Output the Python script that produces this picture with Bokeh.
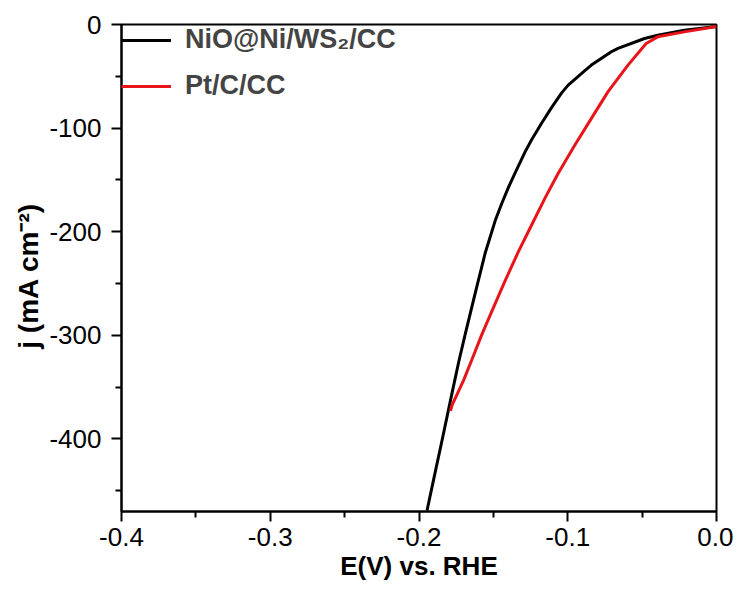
from bokeh.plotting import figure
from bokeh.models import FixedTicker, NumeralTickFormatter, Legend, LegendItem, Range1d
from bokeh.embed import file_html
from bokeh.resources import INLINE

# Data (LSV curves)
nio_E = [0.0, -0.0216, -0.0395, -0.0484, -0.0662, -0.0707, -0.0841, -0.0885, -0.0997,
         -0.1041, -0.1108, -0.1175, -0.1242, -0.1286, -0.1353, -0.1398, -0.1443, -0.1487,
         -0.1554, -0.1620, -0.1688, -0.1732, -0.1777, -0.1846, -0.1900, -0.1946]
nio_j = [-2, -5.5, -10.3, -13.5, -23.1, -26.3, -39.2, -44.5, -58.5,
         -66, -80, -95, -111, -122.7, -143, -157, -172.5, -189,
         -220, -258, -298, -325, -355, -402, -438, -469]

pt_E = [0.0, -0.0216, -0.0395, -0.0473, -0.0595, -0.0729, -0.0841, -0.0952, -0.1064,
        -0.1153, -0.1242, -0.1331, -0.1420, -0.1520, -0.1580, -0.1632, -0.1699, -0.1744,
        -0.1777, -0.1788]
pt_j = [-2, -7.1, -11.9, -18.3, -39.2, -64.8, -90.6, -116.3, -143.5,
        -167.6, -193.3, -219, -247, -280, -300, -319, -343, -357,
        -367, -373]

series_labels = ["NiO@Ni/WS\u2082/CC", "Pt/C/CC"]
x_major = [-0.4, -0.3, -0.2, -0.1, 0.0]
x_minor = [-0.35, -0.25, -0.15, -0.05]
y_major = [0, -100, -200, -300, -400]
y_minor = [-50, -150, -250, -350, -450]

FONT = "Liberation Sans"

p = figure(width=733, height=587, output_backend="svg", toolbar_location=None,
           x_range=Range1d(-0.4, 0.0), y_range=Range1d(-470, 0),
           min_border_left=121, min_border_right=17, min_border_top=24, min_border_bottom=76)
p.grid.visible = False
p.outline_line_color = "black"
p.outline_line_width = 2
p.background_fill_color = "white"
p.border_fill_color = "white"

r1 = p.line(nio_E, nio_j, line_color="black", line_width=3, line_join="round")
r2 = p.line(pt_E, pt_j, line_color="#e8141a", line_width=3, line_join="round")

for ax in (p.xaxis[0], p.yaxis[0]):
    ax.axis_line_width = 2
    ax.major_tick_line_width = 2
    ax.minor_tick_line_width = 2
    ax.major_tick_out = 10
    ax.major_tick_in = 0
    ax.minor_tick_out = 6
    ax.minor_tick_in = 0
    ax.major_label_text_font = FONT
    ax.major_label_text_font_size = "26px"
    ax.major_label_text_color = "black"
    ax.axis_label_text_font = FONT
    ax.axis_label_text_font_style = "bold"
    ax.axis_label_text_color = "black"

p.xaxis.ticker = FixedTicker(ticks=x_major, minor_ticks=x_minor)
p.xaxis.formatter = NumeralTickFormatter(format="0.0")
p.xaxis.axis_label = "E(V) vs. RHE"
p.xaxis.axis_label_text_font_size = "26px"
p.xaxis.major_label_standoff = 6
p.xaxis.axis_label_standoff = 2

p.yaxis.ticker = FixedTicker(ticks=y_major, minor_ticks=y_minor)
p.yaxis.formatter = NumeralTickFormatter(format="0")
p.yaxis.axis_label = "j (mA cm\u207b\u00b2)\u00a0\u00a0"
p.yaxis.axis_label_text_font_size = "28px"
p.yaxis.major_label_standoff = 10
p.yaxis.axis_label_standoff = 2

legend = Legend(items=[LegendItem(label=series_labels[0], renderers=[r1]),
                       LegendItem(label=series_labels[1], renderers=[r2])],
                location="top_left", border_line_color=None, background_fill_alpha=0,
                label_text_font=FONT, label_text_font_size="27px", label_text_font_style="bold",
                glyph_width=50, glyph_height=30, label_height=30, label_standoff=14,
                spacing=15, margin=0, padding=5)
p.add_layout(legend)

open("out.html", "w").write(file_html(p, INLINE))
